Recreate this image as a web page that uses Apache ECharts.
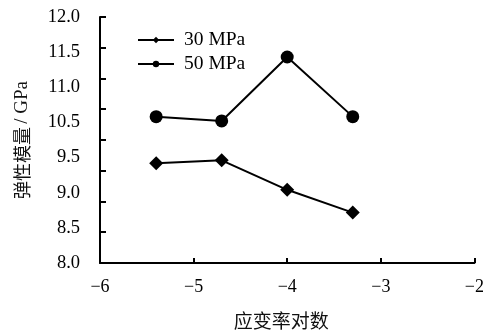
<!DOCTYPE html>
<html>
<head>
<meta charset="utf-8">
<script src="https://cdn.jsdelivr.net/npm/echarts@6/dist/echarts.min.js"></script>
<style>
  html, body { margin: 0; padding: 0; background: #fff; }
  #main { width: 487px; height: 335px; }
</style>
</head>
<body>
<div id="main"></div>
<script>
// strain-rate logarithm (x) and modulus values (GPa)
const strainLog = [-5.4, -4.7, -4.0, -3.3];
const mod30 = [9.62, 9.67, 9.19, 8.82];
const mod50 = [10.38, 10.31, 11.35, 10.38];
// y labels as printed in the figure (10.0 missing there)
const yLabels = ['8.0', '8.5', '9.0', '9.5', '10.5', '11.0', '11.5', '12.0'];

const serif = 'Liberation Serif';
const cjk = '"Noto Sans CJK SC"';

function pairs(xs, ys) {
  let out = [];
  for (let i = 0; i < xs.length; i++) {
    out.push([xs[i], ys[i]]);
  }
  return out;
}

let myChart = echarts.init(document.getElementById('main'));
myChart.setOption({
  animation: false,
  grid: { left: 100, right: 5, top: 17, bottom: 68 },
  legend: {
    left: 137,
    top: 30,
    padding: 0,
    orient: 'vertical',
    itemWidth: 36,
    itemHeight: 8,
    itemGap: 4,
    textStyle: { fontFamily: serif, fontSize: 19.5, color: '#000', padding: [0, 0, 0, 5] },
    data: ['30 MPa', '50 MPa']
  },
  xAxis: {
    type: 'value',
    min: -6,
    max: -2,
    interval: 1,
    name: '应变率对数',
    nameLocation: 'middle',
    nameGap: 48,
    nameTextStyle: { fontFamily: cjk, fontSize: 19, color: '#111', padding: [0, 12, 0, 0] },
    axisLine: { lineStyle: { color: '#000', width: 2 } },
    axisTick: { inside: true, length: 5, lineStyle: { color: '#000', width: 2 } },
    axisLabel: {
      fontFamily: serif, fontSize: 18, color: '#000', margin: 15,
      formatter: v => String(v).replace('-', '\u2212')
    },
    splitLine: { show: false }
  },
  yAxis: [
    {
      type: 'value',
      min: 8,
      max: 12,
      interval: 0.5,
      name: '{c|弹性模量} {s|/ GPa}',
      nameLocation: 'middle',
      nameGap: 68,
      nameTextStyle: {
        color: '#111',
        rich: {
          c: { fontFamily: cjk, fontSize: 18, color: '#111' },
          s: { fontFamily: serif, fontSize: 19, color: '#111' }
        }
      },
      axisLine: { show: true, lineStyle: { color: '#000', width: 2 } },
      axisTick: { show: true, inside: true, length: 6, lineStyle: { color: '#000', width: 2 } },
      axisLabel: { show: false },
      splitLine: { show: false }
    },
    {
      type: 'category',
      position: 'left',
      boundaryGap: false,
      data: yLabels,
      axisLine: { show: false },
      axisTick: { show: false },
      axisLabel: { fontFamily: serif, fontSize: 18.5, color: '#000', margin: 20 },
      splitLine: { show: false }
    }
  ],
  series: [
    {
      name: '30 MPa',
      type: 'line',
      data: pairs(strainLog, mod30),
      symbol: 'diamond',
      symbolSize: 14,
      itemStyle: { color: '#000' },
      lineStyle: { color: '#000', width: 2 }
    },
    {
      name: '50 MPa',
      type: 'line',
      data: pairs(strainLog, mod50),
      symbol: 'circle',
      symbolSize: 13,
      itemStyle: { color: '#000' },
      lineStyle: { color: '#000', width: 2 }
    }
  ]
});
</script>
</body>
</html>
